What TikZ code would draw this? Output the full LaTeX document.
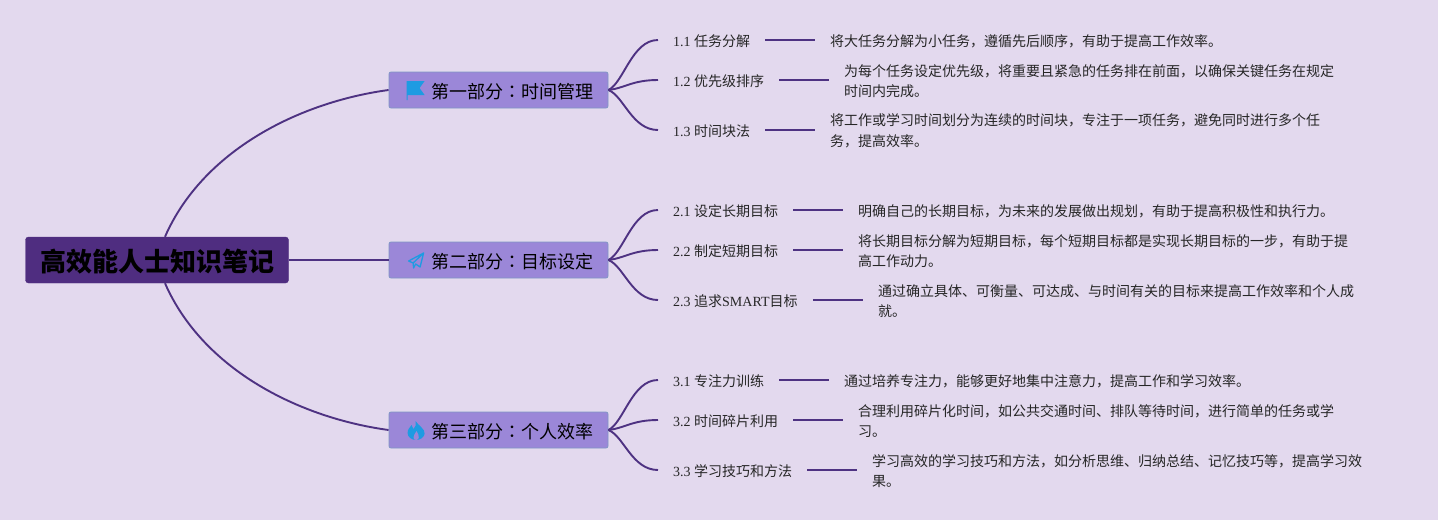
\documentclass[tikz,border=0pt]{standalone}
\usepackage{fontspec}
\setmainfont{Liberation Serif}
\newfontfamily\cjk{Noto Sans CJK SC}
\newfontfamily\cjktc{Noto Sans CJK TC}
\usetikzlibrary{shapes,calc}
\definecolor{page_bg}{HTML}{E3D9EE}
\definecolor{edge_purple}{HTML}{4E3282}
\definecolor{main_fill}{HTML}{4F2D80}
\definecolor{topic_fill}{HTML}{9B87D8}
\definecolor{topic_line}{HTML}{7F97C4}
\definecolor{icon_blue}{HTML}{1E9BE2}
\tikzstyle{node_main} = [rectangle, rounded corners=3pt, fill=main_fill, draw=main_fill, minimum width=263pt, minimum height=46pt, inner sep=0pt, text height=26.88pt, text depth=3.12pt, text=black, font=\cjk\fontsize{26}{30}\selectfont\bfseries]
\tikzstyle{node_topic} = [rectangle, rounded corners=2pt, fill=topic_fill, draw=topic_line, line width=0.8pt, minimum width=219pt, minimum height=36pt, inner sep=0pt, text height=19.84pt, text depth=2.16pt, text=black, font=\cjk\fontsize{18}{22}\selectfont]
\tikzstyle{node_leaf} = [anchor=west, yshift=-1pt, inner xsep=15pt, inner ysep=0pt, minimum height=16pt, text=black!85, font=\fontsize{14}{20}\selectfont]
\tikzstyle{node_desc} = [anchor=west, yshift=-1pt, inner xsep=15pt, inner ysep=0pt, minimum height=16pt, text=black!85, align=left, font=\cjk\fontsize{14}{20.5}\selectfont]
\tikzstyle{edge_normal} = [draw=edge_purple, line width=1.9pt]
\tikzstyle{icon_fill} = [fill=icon_blue, draw=none]

\begin{document}
\begin{tikzpicture}[x=1pt,y=-1pt]
\useasboundingbox[fill=page_bg] (0,0) rectangle (1438,520);

\node (main) at (157,260) [node_main] {高效能人士知识笔记};
\node (T1) at (498.5,90) [node_topic] {\hspace*{28pt}第一部分{\cjktc ：}时间管理};
\node (T2) at (498.5,260) [node_topic] {\hspace*{28pt}第二部分{\cjktc ：}目标设定};
\node (T3) at (498.5,430) [node_topic] {\hspace*{28pt}第三部分{\cjktc ：}个人效率};

\node (L11) at (658,40) [node_leaf] {1.1 {\cjk 任务分解}};
\node (L12) at (658,80) [node_leaf] {1.2 {\cjk 优先级排序}};
\node (L13) at (658,130) [node_leaf] {1.3 {\cjk 时间块法}};
\node (L21) at (658,210) [node_leaf] {2.1 {\cjk 设定长期目标}};
\node (L22) at (658,250) [node_leaf] {2.2 {\cjk 制定短期目标}};
\node (L23) at (658,300) [node_leaf] {2.3 {\cjk 追求}SMART{\cjk 目标}};
\node (L31) at (658,380) [node_leaf] {3.1 {\cjk 专注力训练}};
\node (L32) at (658,420) [node_leaf] {3.2 {\cjk 时间碎片利用}};
\node (L33) at (658,470) [node_leaf] {3.3 {\cjk 学习技巧和方法}};

\node (D11) at (815,40) [node_desc] {将大任务分解为小任务，遵循先后顺序，有助于提高工作效率。};
\node (D12) at (829,80) [node_desc] {为每个任务设定优先级，将重要且紧急的任务排在前面，以确保关键任务在规定\\时间内完成。};
\node (D13) at (815,130) [node_desc] {将工作或学习时间划分为连续的时间块，专注于一项任务，避免同时进行多个任\\务，提高效率。};
\node (D21) at (843,210) [node_desc] {明确自己的长期目标，为未来的发展做出规划，有助于提高积极性和执行力。};
\node (D22) at (843,250) [node_desc] {将长期目标分解为短期目标，每个短期目标都是实现长期目标的一步，有助于提\\高工作动力。};
\node (D23) at (863,300) [node_desc] {通过确立具体、可衡量、可达成、与时间有关的目标来提高工作效率和个人成\\就。};
\node (D31) at (829,380) [node_desc] {通过培养专注力，能够更好地集中注意力，提高工作和学习效率。};
\node (D32) at (843,420) [node_desc] {合理利用碎片化时间，如公共交通时间、排队等待时间，进行简单的任务或学\\习。};
\node (D33) at (857,470) [node_desc] {学习高效的学习技巧和方法，如分析思维、归纳总结、记忆技巧等，提高学习效\\果。};

\draw[edge_normal] (main.71) .. controls (203,150) and (300,102) .. (T1.west);
\draw[edge_normal] (main.east) -- (T2.west);
\draw[edge_normal] (main.-71) .. controls (203,370) and (300,418) .. (T3.west);

\foreach \t/\a in {T1/L11,T1/L12,T1/L13,T2/L21,T2/L22,T2/L23,T3/L31,T3/L32,T3/L33}
  \draw[edge_normal] (\t.east) .. controls ($(\t.east)!0.15!([yshift=1pt]\a.west)+(8,0)$) and ($([yshift=1pt]\a.west)+(-26,0)$) .. ([yshift=1pt]\a.west);

\foreach \a/\b in {L11/D11,L12/D12,L13/D13,L21/D21,L22/D22,L23/D23,L31/D31,L32/D32,L33/D33}
  \draw[edge_normal] ([yshift=1pt]\a.east) -- ([yshift=1pt]\b.west);

% icons
\fill[icon_fill,shift={(T1.west)}] (18,-9) -- (36,-9) -- (31,-2) -- (36,5) -- (19,5) -- (19,10) -- (18,10) -- cycle;
\draw[icon_blue,line width=1.3pt,line join=round,shift={(T2.west)}] (20,1) -- (35,-7) -- (31.5,7) -- (27,4) -- (25,8) -- (24.5,3) -- cycle (24.5,3) -- (35,-7);
\fill[icon_fill,shift={(T3.west)}] (27,-9) .. controls (29,-5) and (37,-1) .. (36,4) .. controls (35,8) and (31,10) .. (27.5,10) .. controls (23,10) and (19,7) .. (19,3) .. controls (19,-1) and (21,-2) .. (23,-5) .. controls (24,-3) and (24,-2) .. (25,-1) .. controls (27,-3) and (28,-6) .. (27,-9) -- cycle;
\fill[topic_fill,shift={(T3.west)}] (27.5,10) .. controls (24,10) and (24,6) .. (28,1) .. controls (31,6) and (31,10) .. (27.5,10) -- cycle;
\end{tikzpicture}
\end{document}
